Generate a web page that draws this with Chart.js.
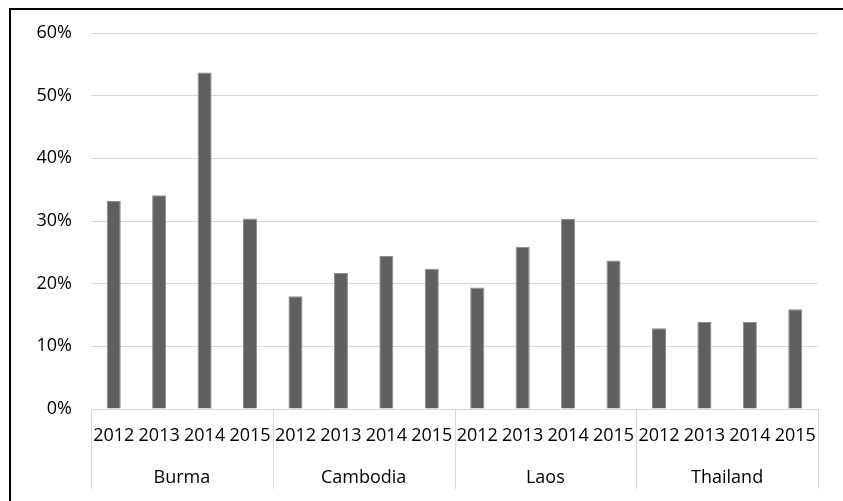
<!DOCTYPE html>
<html>
<head>
<meta charset="utf-8">
<script src="https://cdn.jsdelivr.net/npm/chart.js@4.4.1/dist/chart.umd.min.js"></script>
<style>
  html, body { margin: 0; padding: 0; background: #fff; overflow: hidden; }
  #wrap { position: relative; width: 843px; height: 501px; }
  #frame { position: absolute; left: 9px; top: 8px; width: 900px; height: 600px;
           border-left: 2px solid #000; border-top: 2px solid #000; pointer-events: none; }
  canvas { position: absolute; left: 0; top: 0; }
</style>
</head>
<body>
<div id="wrap">
  <canvas id="c" width="843" height="501"></canvas>
  <div id="frame"></div>
</div>
<script>
// Share of GDP by country and year (percent)
const countries = ['Burma', 'Cambodia', 'Laos', 'Thailand'];
const years = ['2012', '2013', '2014', '2015'];
const burma = [33.2, 34.1, 53.7, 30.4];
const cambodia = [18.0, 21.7, 24.4, 22.4];
const laos = [19.4, 25.9, 30.3, 23.7];
const thailand = [12.9, 13.9, 13.9, 15.9];
const yTicks = [0, 10, 20, 30, 40, 50, 60];

const seriesByCountry = [burma, cambodia, laos, thailand];
const yearLabels = [];
const values = [];
countries.forEach((c, i) => {
  years.forEach((y, j) => {
    yearLabels.push(y);
    values.push(seriesByCountry[i][j]);
  });
});

const FONT = { family: "'Open Sans', 'Liberation Sans', sans-serif", size: 18 };
const GRID = '#d9d9d9';

// Vertical separators between country groups, running through both label rows
const groupDividers = {
  id: 'groupDividers',
  afterDraw(chart) {
    const x = chart.scales.x;
    const x2 = chart.scales.x2;
    const ctx = chart.ctx;
    ctx.save();
    ctx.strokeStyle = GRID;
    ctx.lineWidth = 1;
    for (let k = 0; k <= countries.length; k++) {
      const px = Math.round(x.getPixelForValue(k * years.length - 0.5)) + 0.5;
      ctx.beginPath();
      ctx.moveTo(px, x.top);
      ctx.lineTo(px, x2.bottom - 12);
      ctx.stroke();
    }
    ctx.restore();
  }
};

new Chart(document.getElementById('c'), {
  type: 'bar',
  data: {
    labels: yearLabels,
    datasets: [{
      data: values,
      backgroundColor: '#5f5f5f',
      borderColor: '#8c8c8c',
      borderWidth: 1,
      barPercentage: 0.31,
      categoryPercentage: 1.0,
      xAxisID: 'x',
      yAxisID: 'y'
    }]
  },
  options: {
    responsive: false,
    animation: false,
    events: [],
    layout: { padding: { left: 0, right: 25, top: 33, bottom: 0 } },
    plugins: { legend: { display: false }, tooltip: { enabled: false } },
    scales: {
      y: {
        min: 0,
        max: 60,
        afterBuildTicks(scale) { scale.ticks = yTicks.map(v => ({ value: v })); },
        afterFit(scale) { scale.width = 91; },
        ticks: {
          font: FONT,
          color: '#000',
          padding: 19,
          callback: v => v + '%'
        },
        grid: { color: GRID, lineWidth: 1, drawTicks: false },
        border: { display: false }
      },
      x: {
        type: 'category',
        position: 'bottom',
        weight: 0,
        offset: true,
        afterFit(scale) { scale.height = 45; },
        ticks: {
          font: FONT,
          color: '#000',
          padding: 16,
          autoSkip: false,
          maxRotation: 0,
          minRotation: 0
        },
        grid: { display: false, drawTicks: false },
        border: { display: false }
      },
      x2: {
        type: 'category',
        position: 'bottom',
        weight: 1,
        labels: countries,
        offset: true,
        afterFit(scale) { scale.height = 47; },
        ticks: {
          font: FONT,
          color: '#000',
          padding: 13,
          autoSkip: false,
          maxRotation: 0,
          minRotation: 0
        },
        grid: { display: false, drawTicks: false },
        border: { display: false }
      }
    }
  },
  plugins: [groupDividers]
});
</script>
</body>
</html>
